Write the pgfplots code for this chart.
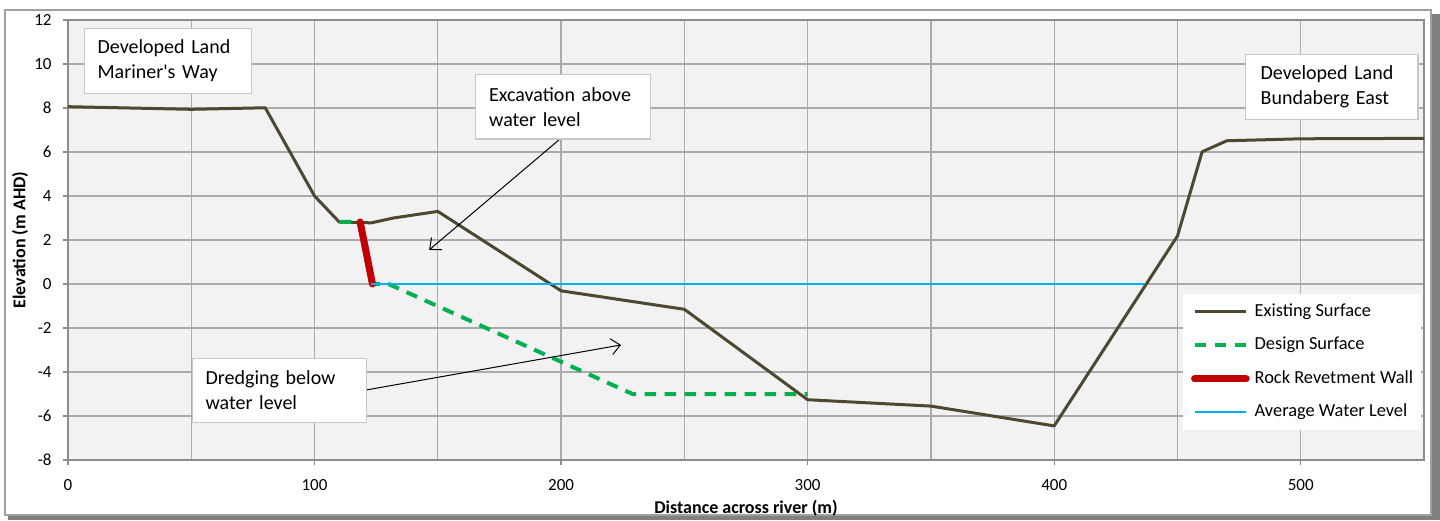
\documentclass[border=0pt]{standalone}
\usepackage{pgfplots}
\pgfplotsset{compat=1.18}
\usepackage{fontspec}
\setmainfont{Carlito}
\usetikzlibrary{arrows.meta}
\definecolor{bggray}{HTML}{F2F2F2}
\definecolor{gridgray}{HTML}{ABABAB}
\definecolor{axisgray}{HTML}{8C8C8C}
\definecolor{boxgray}{HTML}{C8C8C8}
\definecolor{framegray}{HTML}{A0A0A0}
\definecolor{shadowgray}{HTML}{808080}
\definecolor{existing}{HTML}{4D4831}
\definecolor{design}{HTML}{00B050}
\definecolor{wall}{HTML}{C00000}
\definecolor{water}{HTML}{00B0F0}
\begin{document}
\begin{tikzpicture}
\useasboundingbox (0,0) rectangle (720pt,260pt);
\fill[white] (0,0) rectangle (720pt,260pt);
% frame with shadow
\fill[shadowgray] (716pt,0pt) rectangle (720pt,253pt);
\fill[shadowgray] (4pt,0pt) rectangle (720pt,2pt);
\draw[framegray, line width=1pt] (2.5pt,2.5pt) rectangle (715.5pt,255pt);
\begin{axis}[
  at={(34pt,30pt)}, anchor=south west,
  scale only axis, width=678pt, height=220pt,
  xmin=0, xmax=550, ymin=-8, ymax=12,
  xtick={0,100,...,500}, minor xtick={50,150,...,550},
  ytick={-8,-6,...,12},
  grid=both,
  major grid style={draw=gridgray, line width=0.65pt},
  minor grid style={draw=gridgray, line width=0.65pt},
  axis background/.style={fill=bggray},
  axis line style={draw=axisgray, line width=0.65pt},
  tick style={draw=axisgray, line width=0.65pt},
  tick align=outside, major tick length=2.5pt, minor tick length=0pt,
  tick pos=left,
  /pgf/number format/assume math mode=true,
  ticklabel style={font=\fontsize{8.5}{10}\selectfont, text=black},
  xticklabel style={anchor=north, inner sep=0pt, yshift=-7pt},
  yticklabel style={anchor=east, inner sep=0pt, xshift=-5.5pt},
  xlabel={Distance across river (m)},
  ylabel={Elevation (m AHD)},
  label style={font=\bfseries\fontsize{9}{11}\selectfont},
  xlabel style={at={(axis description cs:0.5,-0.109)}, anchor=center},
  ylabel style={at={(axis description cs:-0.0354,0.5)}, anchor=center, rotate=0},
  legend image code/.code={\draw[#1] (0pt,0pt) -- (25.8pt,0pt);},
  legend cell align=left,
  legend style={at={(0.822,0.3773)}, anchor=north west, draw=none, fill=white,
    font=\fontsize{9.2}{11}\selectfont, row sep=8.25pt,
    inner xsep=4pt, inner ysep=4.5pt,
    nodes={inner sep=0pt, text height=6.5pt, text depth=2pt},
    /tikz/every odd column/.style={column sep=2.5pt}},
]
\addplot[existing, line width=1.5pt, line join=round] coordinates {
 (0,8.06) (50,7.94) (80,8.01) (100,4.0) (110,2.82) (123,2.78) (132,3.0)
 (150,3.3) (200,-0.31) (250,-1.15) (300,-5.26) (350,-5.55) (400,-6.45)
 (450,2.18) (460,6.01) (470,6.51) (500,6.6) (550,6.62)
};
\addlegendentry{Existing Surface}
\addplot[design, line width=2pt, dash pattern=on 5.8pt off 4.2pt] coordinates {
 (110,2.82) (118,2.82) (123,0) (130,0) (229,-5) (300,-5)
};
\addlegendentry{Design Surface}
\addplot[wall, line width=3.5pt, line cap=round] coordinates {
 (118.5,2.82) (123.5,0)
};
\addlegendentry{Rock Revetment Wall}
\addplot[water, line width=1pt] coordinates {
 (123,0) (437,0)
};
\addlegendentry{Average Water Level}

\tikzset{box/.style={draw=boxgray, fill=white, line width=0.6pt, anchor=north west,
  align=left, font=\fontsize{10}{12.5}\selectfont, inner ysep=0pt}}
\draw[black, line width=0.5pt, -{Straight Barb[length=4.5pt,width=8pt]}]
  (axis cs:200.5,6.68) -- (axis cs:146.5,1.55);
\draw[black, line width=0.5pt, -{Straight Barb[length=4.5pt,width=8pt]}]
  (axis cs:120.8,-4.82) -- (axis cs:224.3,-2.77);
\node[box, inner xsep=6.5pt, text width=70.5pt, minimum height=32.5pt]
  at (axis cs:6.5,11.64) {Developed Land\\Mariner\textquotesingle s Way};
\node[box, inner xsep=6.65pt, text width=73.9pt, minimum height=32.2pt]
  at (axis cs:165.2,9.545) {Excavation above\\water level};
\node[box, inner xsep=6.65pt, text width=73.7pt, minimum height=31.7pt]
  at (axis cs:50.2,-3.377) {Dredging below\\water level};
\node[box, inner xsep=7.5pt, text width=71.2pt, minimum height=32.5pt]
  at (axis cs:477.4,10.455) {Developed Land\\Bundaberg East};
\end{axis}
\end{tikzpicture}
\end{document}
